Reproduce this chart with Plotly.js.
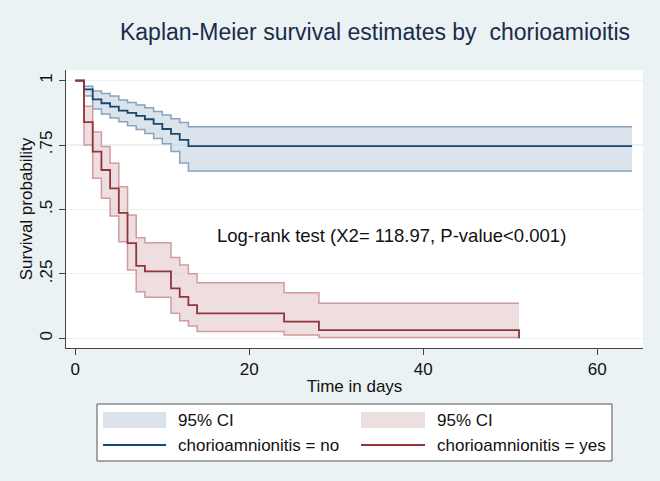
<!DOCTYPE html>
<html>
<head>
<meta charset="utf-8">
<script src="https://cdn.plot.ly/plotly-3.0.1.min.js"></script>
<style>html,body{margin:0;padding:0;background:#EAF2F3;}</style>
</head>
<body>
<div id="chart" style="width:660px;height:481px;"></div>
<script>
// ---- Data ----
// Group: chorioamnionitis = no
const daysNo   = [0, 1, 2, 3, 4, 5, 6, 7, 8, 9, 10, 11, 12, 13, 64];
const survNo   = [1, 0.966, 0.927, 0.912, 0.899, 0.883, 0.875, 0.863, 0.850, 0.832, 0.812, 0.793, 0.770, 0.746, 0.746];
const upperNo  = [1, 0.978, 0.960, 0.950, 0.940, 0.925, 0.915, 0.905, 0.895, 0.880, 0.866, 0.852, 0.837, 0.821, 0.821];
const lowerNo  = [1, 0.940, 0.890, 0.870, 0.855, 0.840, 0.825, 0.810, 0.795, 0.775, 0.755, 0.725, 0.680, 0.649, 0.649];
// Group: chorioamnionitis = yes
const daysYes  = [0, 1, 2, 3, 4, 5, 6, 7, 8, 11, 12, 13, 14, 24, 28, 51];
const survYes  = [1, 0.839, 0.724, 0.653, 0.582, 0.487, 0.369, 0.281, 0.260, 0.194, 0.161, 0.129, 0.097, 0.0645, 0.032, 0];
const ciDaysYes = [0, 1, 2, 3, 4, 5, 6, 7, 8, 11, 12, 13, 14, 24, 28, 51];
const upperYes = [1, 0.900, 0.800, 0.744, 0.679, 0.588, 0.478, 0.390, 0.371, 0.314, 0.284, 0.250, 0.216, 0.177, 0.136, 0.136];
const lowerYes = [1, 0.750, 0.621, 0.543, 0.475, 0.375, 0.265, 0.181, 0.159, 0.097, 0.068, 0.048, 0.026, 0.013, 0.003, 0.003];

const yTickVals = [0, 0.25, 0.5, 0.75, 1];
const yTickText = ["0", ".25", ".5", ".75", "1"];
const xTickVals = [0, 20, 40, 60];

const titleText = "Kaplan-Meier survival estimates by  chorioamioitis";
const noteText = "Log-rank test (X2= 118.97, P-value<0.001)";
const legendLabels = ["95% CI", "95% CI", "chorioamnionitis = no", "chorioamnionitis = yes"];

// ---- Styles ----
const BG = "#EAF2F3";
const BLUE = "#1a476f", BLUE_EDGE = "#8aa2bd", BLUE_FILL = "rgba(190,204,222,0.55)";
const RED = "#90353b", RED_EDGE = "#d19ba0", RED_FILL = "rgba(224,190,193,0.5)";
const FONT = "Liberation Sans, Arial, sans-serif";

// plot area in pixels
const PL = 66, PR = 643, PT = 70, PB = 348;
const W = 660, H = 481;
const px = x => (x - PL) / (PR - PL);
const py = y => (PB - y) / (PB - PT);

const traces = [
  {x: daysNo, y: lowerNo, mode: "lines", line: {shape: "hv", color: BLUE_EDGE, width: 1.5}, showlegend: false, hoverinfo: "skip"},
  {x: daysNo, y: upperNo, mode: "lines", fill: "tonexty", fillcolor: BLUE_FILL, line: {shape: "hv", color: BLUE_EDGE, width: 1.5}, showlegend: false, hoverinfo: "skip"},
  {x: ciDaysYes, y: lowerYes, mode: "lines", line: {shape: "hv", color: RED_EDGE, width: 1.5}, showlegend: false, hoverinfo: "skip"},
  {x: ciDaysYes, y: upperYes, mode: "lines", fill: "tonexty", fillcolor: RED_FILL, line: {shape: "hv", color: RED_EDGE, width: 1.5}, showlegend: false, hoverinfo: "skip"},
  {x: daysNo, y: survNo, mode: "lines", line: {shape: "hv", color: BLUE, width: 1.8}, name: legendLabels[2], showlegend: false},
  {x: daysYes, y: survYes, mode: "lines", line: {shape: "hv", color: RED, width: 1.8}, name: legendLabels[3], showlegend: false}
];

// manual legend (Stata style)
const LX1 = 97, LX2 = 612, LY1 = 404, LY2 = 461;
const row1 = 420, row2 = 445;
const c1s = 103, c1e = 166, c1t = 176;
const c2s = 361, c2e = 425, c2t = 435;
const shapes = [
  {type: "rect", xref: "paper", yref: "paper", x0: px(LX1), x1: px(LX2), y0: py(LY2), y1: py(LY1), fillcolor: "white", line: {color: "#555", width: 1}, layer: "below"},
  {type: "rect", xref: "paper", yref: "paper", x0: px(c1s), x1: px(c1e), y0: py(428), y1: py(412), fillcolor: "#dbe2ea", line: {width: 0}},
  {type: "rect", xref: "paper", yref: "paper", x0: px(c2s), x1: px(c2e), y0: py(428), y1: py(412), fillcolor: "#eddfe0", line: {width: 0}},
  {type: "line", xref: "paper", yref: "paper", x0: px(c1s), x1: px(c1e), y0: py(row2), y1: py(row2), line: {color: BLUE, width: 1.8}},
  {type: "line", xref: "paper", yref: "paper", x0: px(c2s), x1: px(c2e), y0: py(row2), y1: py(row2), line: {color: RED, width: 1.8}}
];
const legFont = {family: FONT, size: 17, color: "#111"};
const annotations = [
  {xref: "paper", yref: "paper", x: px(c1t), y: py(row1), text: legendLabels[0], showarrow: false, xanchor: "left", yanchor: "middle", font: legFont},
  {xref: "paper", yref: "paper", x: px(c2t), y: py(row1), text: legendLabels[1], showarrow: false, xanchor: "left", yanchor: "middle", font: legFont},
  {xref: "paper", yref: "paper", x: px(c1t), y: py(row2), text: legendLabels[2], showarrow: false, xanchor: "left", yanchor: "middle", font: legFont},
  {xref: "paper", yref: "paper", x: px(c2t), y: py(row2), text: legendLabels[3], showarrow: false, xanchor: "left", yanchor: "middle", font: legFont},
  {xref: "x", yref: "y", x: 36.3, y: 0.397, text: noteText, showarrow: false, xanchor: "center", yanchor: "middle", font: {family: FONT, size: 18.5, color: "#111"}}
];

const layout = {
  width: W, height: H,
  paper_bgcolor: BG, plot_bgcolor: "white",
  margin: {l: PL, r: W - PR, t: PT, b: H - PB, pad: 0},
  showlegend: false,
  title: {text: titleText, x: 375 / W, xanchor: "center", xref: "container", y: 1 - 32 / H, yanchor: "middle", yref: "container",
          font: {family: FONT, size: 23, color: "#1c2b4b"}},
  xaxis: {range: [-1.07, 65.25], tickvals: xTickVals, ticks: "outside", ticklen: 6, tickcolor: "#444", tickwidth: 1,
          showline: true, linecolor: "#444", linewidth: 1, showgrid: false, zeroline: false,
          tickfont: {family: FONT, size: 17, color: "#111"},
          title: {text: "Time in days", font: {family: FONT, size: 17, color: "#111"}, standoff: 1}},
  yaxis: {range: [-0.0376, 1.041], tickvals: yTickVals, ticktext: yTickText, tickangle: -90, ticks: "outside", ticklen: 6, tickcolor: "#444", tickwidth: 1,
          showline: true, linecolor: "#444", linewidth: 1, showgrid: true, gridcolor: BG, gridwidth: 1.2, zeroline: false,
          tickfont: {family: FONT, size: 17, color: "#111"},
          title: {text: "Survival probability", font: {family: FONT, size: 17, color: "#111"}, standoff: 0}},
  shapes: shapes,
  annotations: annotations
};

Plotly.newPlot("chart", traces, layout, {staticPlot: true, displayModeBar: false});
</script>
</body>
</html>
